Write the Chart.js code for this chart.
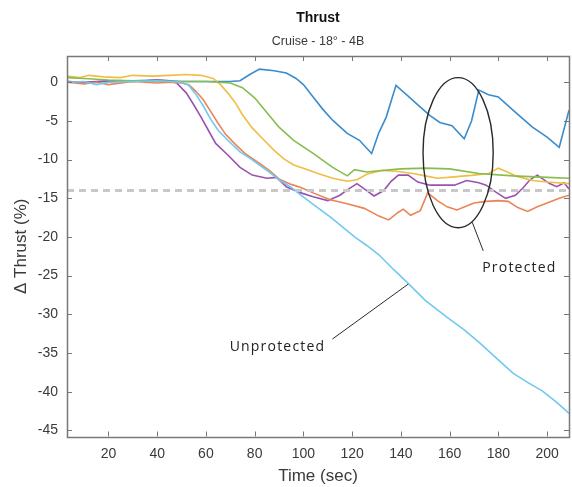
<!DOCTYPE html>
<html>
<head>
<meta charset="utf-8">
<script src="https://cdn.jsdelivr.net/npm/chart.js@4.4.1/dist/chart.umd.min.js"></script>
<style>
  html, body { margin: 0; padding: 0; background: #fff; }
  #wrap { width: 572px; height: 487px; position: relative; }
</style>
</head>
<body>
<div id="wrap"><canvas id="c" width="572" height="487"></canvas></div>
<script>
// ---- Data ----
const chartTitle = "Thrust";
const chartSubtitle = "Cruise - 18° - 4B";
const xLabel = "Time (sec)";
const yLabel = "Δ Thrust (%)";
const xTicks = [20, 40, 60, 80, 100, 120, 140, 160, 180, 200];
const yTicks = [-45, -40, -35, -30, -25, -20, -15, -10, -5, 0];
const xRange = [3, 209];
const yRange = [-45.8, 3.4];
const refLevel = -14;

// Series 1 (blue)
const blueT = [3,10,20,30,40,50,60,70,74,78,82,88,93,97,100,104,108,112,118,123,128,131,134,138,143,148,152,156,161,166,169,172,176,180,186,194,200,205,209];
const blueV = [0.1,0.0,0.1,0.2,0.3,0.1,0.1,0.1,0.2,1.0,1.7,1.5,1.2,0.5,-0.3,-1.9,-3.5,-4.9,-6.6,-7.5,-9.2,-6.5,-4.5,-0.4,-1.8,-3.2,-4.3,-5.2,-5.6,-7.3,-5.0,-1.0,-1.6,-1.9,-3.6,-5.8,-7.1,-8.4,-3.6];
// Series 2 (orange)
const orangeT = [3,10,15,20,30,40,45,50,53,56,59,62,65,68,72,76,82,86,90,95,99,104,111,118,125,131,135,139,141,144,148,151,155,159,163,167,170,175,180,184,188,192,196,200,205,209];
const orangeV = [0.0,-0.2,0.0,-0.3,0.1,-0.1,0.0,-0.1,-0.3,-1.2,-2.3,-3.8,-5.3,-6.7,-8.0,-9.2,-10.5,-11.4,-12.5,-13.2,-13.6,-14.3,-15.2,-15.7,-16.3,-17.3,-17.8,-16.8,-16.4,-17.2,-16.6,-14.3,-15.3,-16.1,-16.5,-16.0,-15.6,-15.4,-15.3,-15.4,-16.2,-16.7,-16.1,-15.6,-15.0,-14.6];
// Series 3 (yellow)
const yellowT = [3,8,12,18,25,30,38,45,52,58,63,66,69,72,75,79,83,88,92,96,100,106,112,118,122,126,132,138,145,150,155,163,170,176,180,183,188,194,200,209];
const yellowV = [0.8,0.6,0.9,0.7,0.6,0.9,0.8,0.9,1.0,0.9,0.5,-0.3,-1.4,-2.6,-4.2,-5.9,-7.2,-8.8,-9.9,-10.7,-11.1,-11.8,-12.4,-12.8,-12.6,-11.9,-11.4,-11.5,-11.8,-12.1,-12.4,-12.2,-12.0,-11.8,-11.1,-11.5,-12.2,-12.7,-12.9,-13.1];
// Series 4 (purple)
const purpleT = [3,10,20,30,40,45,48,52,55,58,61,64,69,74,79,85,89,93,99,104,110,115,118,122,126,129,133,136,139,143,147,152,157,162,167,172,175,179,183,187,190,193,196,201,204,207,209];
const purpleV = [0.1,0.0,0.2,0.1,0.3,0.2,-0.1,-1.4,-2.9,-4.5,-6.2,-7.9,-9.4,-11.0,-12.0,-12.4,-12.3,-13.5,-14.3,-14.8,-15.3,-14.6,-13.9,-13.1,-14.0,-14.7,-14.0,-12.8,-12.0,-12.0,-12.9,-13.3,-13.3,-13.3,-12.7,-13.0,-13.3,-14.2,-15.0,-14.6,-13.7,-12.6,-12.0,-13.1,-13.5,-13.0,-13.8];
// Series 5 (green)
const greenT = [3,10,20,30,50,60,70,75,80,85,90,96,104,112,118,121,126,132,140,150,160,172,186,200,209];
const greenV = [0.6,0.5,0.3,0.2,0.1,0.1,-0.1,-0.7,-2.0,-3.9,-5.8,-7.5,-9.2,-11.0,-12.1,-11.3,-11.6,-11.4,-11.2,-11.1,-11.2,-11.8,-12.1,-12.3,-12.4];
// Series 6 (light blue, unprotected)
const lightT = [3,10,15,20,30,40,50,53,56,59,62,65,69,74,78,82,86,90,95,99,105,111,116,121,126,131,137,143,150,159,166,172,180,186,192,198,204,209];
const lightV = [0.0,0.1,-0.3,0.0,0.1,0.2,0.0,-0.4,-1.6,-3.1,-4.8,-6.2,-7.5,-9.0,-9.8,-10.7,-11.6,-12.6,-13.6,-14.6,-16.0,-17.4,-18.7,-20.0,-21.1,-22.3,-24.2,-26.0,-28.2,-30.4,-32.0,-33.6,-35.9,-37.6,-38.8,-39.9,-41.4,-42.8];

// Annotations (data coordinates)
const protectedEllipse = { cx: 163.5, cy: -9.1, rx: 14.4, ry: 9.7 };
const protectedLabel = { text: "Protected", x: 173.4, y: -24.0 };
const protectedLeader = [[169.3, -18.1], [173.8, -21.8]];
const unprotectedLabel = { text: "Unprotected", x: 109, y: -34.2 };
const unprotectedLeader = [[111.9, -33.2], [143, -26.1]];

const colors = {
  blue: "#3a8ccc",
  orange: "#ea8458",
  yellow: "#f0bd45",
  purple: "#9a52b0",
  green: "#86bd4e",
  light: "#71c9ef",
  ref: "#c8c8c8"
};

function pts(t, v) { return t.map((x, i) => ({ x: x, y: v[i] })); }

const lineDs = (label, t, v, color) => ({
  label, data: pts(t, v), borderColor: color, borderWidth: 1.6,
  pointRadius: 0, tension: 0, fill: false
});

const datasets = [
  { label: "ref", data: [{ x: xRange[0], y: refLevel }, { x: xRange[1], y: refLevel }],
    borderColor: colors.ref, borderWidth: 3, borderDash: [7, 5], pointRadius: 0 },
  lineDs("light", lightT, lightV, colors.light),
  lineDs("green", greenT, greenV, colors.green),
  lineDs("yellow", yellowT, yellowV, colors.yellow),
  lineDs("orange", orangeT, orangeV, colors.orange),
  lineDs("purple", purpleT, purpleV, colors.purple),
  lineDs("blue", blueT, blueV, colors.blue)
];

const axisColor = "#787878";
const textColor = "#3a3a3a";
const FONT = "'Liberation Sans', Arial, sans-serif";

const matlabAxes = {
  id: "matlabAxes",
  afterDatasetsDraw(chart) {
    const { ctx, scales: { x, y } } = chart;
    ctx.save();
    ctx.strokeStyle = "#2a2a2a";
    ctx.lineWidth = 1.4;
    const e = protectedEllipse;
    const cxp = x.getPixelForValue(e.cx), cyp = y.getPixelForValue(e.cy);
    const rxp = Math.abs(x.getPixelForValue(e.cx + e.rx) - cxp);
    const ryp = Math.abs(y.getPixelForValue(e.cy + e.ry) - cyp);
    ctx.beginPath();
    ctx.ellipse(cxp, cyp, rxp, ryp, 0, 0, Math.PI * 2);
    ctx.stroke();
    ctx.lineWidth = 1;
    [protectedLeader, unprotectedLeader].forEach(l => {
      ctx.beginPath();
      ctx.moveTo(x.getPixelForValue(l[0][0]), y.getPixelForValue(l[0][1]));
      ctx.lineTo(x.getPixelForValue(l[1][0]), y.getPixelForValue(l[1][1]));
      ctx.stroke();
    });
    ctx.fillStyle = "#222";
    ctx.font = "14px 'Open Sans', sans-serif";
    try { ctx.letterSpacing = "1.2px"; } catch (err) {}
    ctx.textBaseline = "middle";
    ctx.textAlign = "left";
    ctx.fillText(protectedLabel.text, x.getPixelForValue(protectedLabel.x), y.getPixelForValue(protectedLabel.y));
    ctx.textAlign = "right";
    ctx.fillText(unprotectedLabel.text, x.getPixelForValue(unprotectedLabel.x), y.getPixelForValue(unprotectedLabel.y));
    ctx.restore();
  },
  afterDraw(chart) {
    const { ctx, chartArea: a, scales: { x, y } } = chart;
    ctx.save();
    ctx.strokeStyle = axisColor;
    ctx.lineWidth = 1.5;
    ctx.strokeRect(Math.round(a.left) + 0.5, Math.round(a.top) + 0.5, Math.round(a.right - a.left), Math.round(a.bottom - a.top));
    const tl = 5;
    ctx.lineWidth = 1;
    ctx.beginPath();
    x.ticks.forEach(t => {
      const px = Math.round(x.getPixelForValue(t.value)) + 0.5;
      ctx.moveTo(px, a.bottom); ctx.lineTo(px, a.bottom - tl);
      ctx.moveTo(px, a.top); ctx.lineTo(px, a.top + tl);
    });
    y.ticks.forEach(t => {
      const py = Math.round(y.getPixelForValue(t.value)) + 0.5;
      ctx.moveTo(a.left, py); ctx.lineTo(a.left + tl, py);
      ctx.moveTo(a.right, py); ctx.lineTo(a.right - tl, py);
    });
    ctx.stroke();
    ctx.restore();
  }
};

new Chart(document.getElementById("c"), {
  type: "line",
  data: { datasets },
  options: {
    responsive: false,
    animation: false,
    events: [],
    layout: { padding: { left: 0, right: 3, top: 0, bottom: 0 } },
    plugins: {
      legend: { display: false },
      tooltip: { enabled: false },
      title: {
        display: true, text: chartTitle, color: "#111", fullSize: false,
        font: { family: FONT, size: 14, weight: "bold" },
        padding: { top: 10.1, bottom: 0 }
      },
      subtitle: {
        display: true, text: chartSubtitle, color: textColor, fullSize: false,
        font: { family: FONT, size: 12.5 },
        padding: { top: 7.1, bottom: 7 }
      }
    },
    scales: {
      x: {
        type: "linear", min: xRange[0], max: xRange[1],
        grid: { display: false, drawTicks: false },
        border: { display: false },
        afterBuildTicks: s => { s.ticks = xTicks.map(v => ({ value: v })); },
        afterFit: s => { s.height = 50.5; },
        ticks: { color: textColor, font: { family: FONT, size: 14 }, padding: 9, maxRotation: 0 },
        title: { display: true, text: xLabel, color: textColor, font: { family: FONT, size: 17 }, padding: { top: 0, bottom: 0 } }
      },
      y: {
        type: "linear", min: yRange[0], max: yRange[1],
        grid: { display: false, drawTicks: false },
        border: { display: false },
        afterBuildTicks: s => { s.ticks = yTicks.map(v => ({ value: v })); },
        afterFit: s => { s.width = 67; },
        ticks: { color: textColor, font: { family: FONT, size: 14 }, padding: 9 },
        title: { display: true, text: yLabel, color: textColor, font: { family: FONT, size: 17 }, padding: { top: 11.4, bottom: 0 } }
      }
    }
  },
  plugins: [matlabAxes]
});
</script>
</body>
</html>
